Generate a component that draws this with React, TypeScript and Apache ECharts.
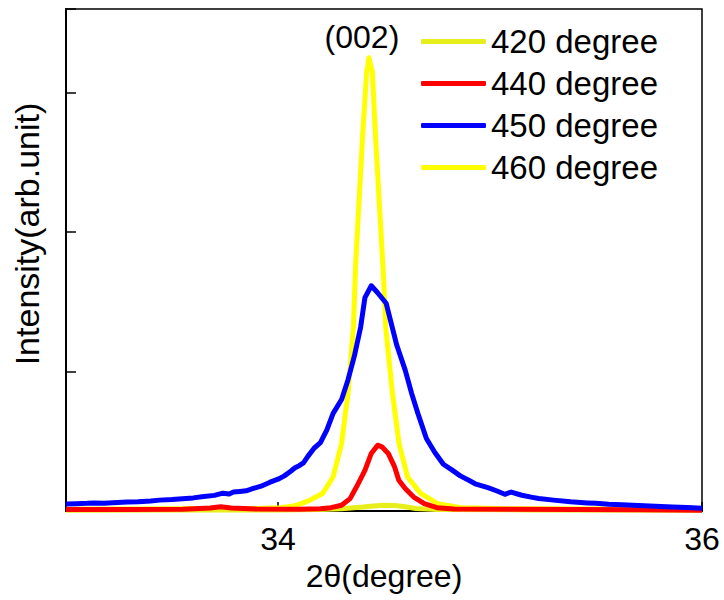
import React, { useEffect, useRef } from "react";
import * as echarts from "echarts";

const FONT = "'Liberation Sans', Arial, sans-serif";

const seriesNames = ["420 degree", "440 degree", "450 degree", "460 degree"];
const xTicks = [34, 36];

const blue450: [number, number][] = [
  [33.0, 0.05], [33.05, 0.052], [33.1, 0.055], [33.13, 0.058], [33.18, 0.056], [33.22, 0.06],
  [33.29, 0.064], [33.34, 0.066], [33.4, 0.072], [33.44, 0.078], [33.5, 0.082], [33.55, 0.088],
  [33.6, 0.094], [33.65, 0.104], [33.7, 0.112], [33.74, 0.128], [33.77, 0.122], [33.79, 0.136],
  [33.82, 0.14], [33.85, 0.145], [33.88, 0.16], [33.92, 0.178], [33.96, 0.205], [34.0, 0.228],
  [34.03, 0.252], [34.06, 0.285], [34.08, 0.31], [34.1, 0.325], [34.12, 0.345], [34.14, 0.39],
  [34.17, 0.45], [34.2, 0.49], [34.23, 0.58], [34.26, 0.7], [34.3, 0.8], [34.33, 0.94],
  [34.36, 1.11], [34.39, 1.32], [34.41, 1.53], [34.44, 1.615], [34.47, 1.565], [34.51, 1.49],
  [34.53, 1.37], [34.56, 1.19], [34.6, 1.01], [34.63, 0.845], [34.66, 0.7], [34.7, 0.52],
  [34.74, 0.42], [34.78, 0.335], [34.82, 0.295], [34.86, 0.252], [34.9, 0.22], [34.93, 0.195],
  [34.99, 0.168], [35.03, 0.145], [35.07, 0.12], [35.1, 0.136], [35.15, 0.113], [35.2, 0.098],
  [35.23, 0.09], [35.3, 0.078], [35.38, 0.066], [35.46, 0.058], [35.5, 0.055], [35.56, 0.048],
  [35.62, 0.044], [35.7, 0.039], [35.78, 0.034], [35.86, 0.029], [35.93, 0.025], [36.0, 0.02],
];

const yellow460: [number, number][] = [
  [33.0, 0.012], [33.3, 0.014], [33.6, 0.016], [33.9, 0.018], [34.01, 0.023], [34.08, 0.038],
  [34.11, 0.053], [34.15, 0.077], [34.21, 0.125], [34.26, 0.244], [34.3, 0.484], [34.33, 0.843],
  [34.356, 1.32], [34.366, 1.76], [34.398, 2.66], [34.418, 3.14], [34.429, 3.25], [34.445, 3.15],
  [34.461, 2.66], [34.497, 1.705], [34.508, 1.32], [34.54, 0.843], [34.571, 0.484], [34.611, 0.244],
  [34.674, 0.125], [34.753, 0.053], [34.863, 0.023], [35.1, 0.016], [35.5, 0.014], [36.0, 0.012],
];

const red440: [number, number][] = [
  [33.0, 0.01], [33.3, 0.01], [33.55, 0.013], [33.68, 0.022], [33.73, 0.03], [33.78, 0.022],
  [33.9, 0.014], [34.1, 0.013], [34.2, 0.016], [34.25, 0.024], [34.3, 0.041], [34.34, 0.089],
  [34.37, 0.172], [34.41, 0.292], [34.44, 0.413], [34.47, 0.472], [34.49, 0.46], [34.52, 0.413],
  [34.55, 0.316], [34.57, 0.22], [34.6, 0.161], [34.64, 0.1], [34.69, 0.053], [34.75, 0.024],
  [34.83, 0.014], [35.1, 0.013], [35.4, 0.011], [35.7, 0.009], [36.0, 0.006],
];

const yellow420: [number, number][] = [
  [33.0, 0.006], [33.5, 0.007], [34.0, 0.008], [34.2, 0.01], [34.3, 0.016], [34.4, 0.028],
  [34.45, 0.036], [34.5, 0.042], [34.55, 0.04], [34.6, 0.03], [34.65, 0.018], [34.75, 0.01],
  [35.2, 0.008], [36.0, 0.006],
];

const peakLabel = "(002)";

export default function App() {
  const ref = useRef<HTMLDivElement>(null);
  useEffect(() => {
    document.body.style.margin = "0";
    if (!ref.current) return;
    const chart = echarts.init(ref.current, undefined, { renderer: "svg" });
    const peak = yellow460.reduce((a, b) => (b[1] > a[1] ? b : a));
    const line = (name: string, data: [number, number][], color: string, extra: any = {}) => ({
      type: "line",
      name,
      data,
      symbol: "none",
      showSymbol: false,
      lineStyle: { color, width: 5, join: "round" },
      itemStyle: { color },
      ...extra,
    });
    chart.setOption({
      animation: false,
      textStyle: { fontFamily: FONT },
      grid: {
        left: 66,
        right: 22,
        top: 9,
        bottom: 89,
        containLabel: false,
        outerBoundsMode: "none",
        show: true,
        borderColor: "#000",
        borderWidth: 1.5,
      },
      legend: {
        data: seriesNames,
        orient: "vertical",
        left: 421,
        top: 25,
        padding: 0,
        itemWidth: 65,
        itemHeight: 5,
        itemGap: 9,
        icon: "roundRect",
        textStyle: { fontSize: 33, lineHeight: 30, color: "#000", fontFamily: FONT },
      },
      xAxis: {
        type: "value",
        min: 33,
        max: 36,
        name: "2θ(degree)",
        nameLocation: "middle",
        nameGap: 48,
        nameTextStyle: { fontSize: 32, color: "#000", fontFamily: FONT },
        axisLine: { lineStyle: { color: "#000", width: 2 } },
        axisTick: { inside: true, length: 9, customValues: xTicks, lineStyle: { color: "#000", width: 1.5 } },
        axisLabel: { customValues: xTicks, fontSize: 32, color: "#000", margin: 12, fontFamily: FONT },
        splitLine: { show: false },
      },
      yAxis: {
        type: "value",
        min: 0,
        max: 3.6,
        interval: 1,
        axisLine: { show: true, lineStyle: { color: "#000", width: 2 } },
        axisTick: { show: true, inside: true, length: 10, lineStyle: { color: "#000", width: 1.5 } },
        axisLabel: { show: false },
        splitLine: { show: false },
      },
      graphic: [
        {
          type: "text",
          x: 27,
          y: 234,
          rotation: Math.PI / 2,
          style: {
            text: "Intensity(arb.unit)",
            fontSize: 34,
            fontFamily: FONT,
            fill: "#000",
            textAlign: "center",
            textVerticalAlign: "middle",
          },
        },
      ],
      series: [
        line(seriesNames[3], yellow460, "#ffff00", {
          markPoint: {
            symbol: "circle",
            symbolSize: 0,
            data: [{ coord: peak }],
            label: {
              show: true,
              position: "inside",
              formatter: peakLabel,
              offset: [-7, -21],
              fontSize: 32,
              color: "#000",
              fontFamily: FONT,
            },
          },
        }),
        line(seriesNames[0], yellow420, "#e6ee1c"),
        line(seriesNames[1], red440, "#ff0000"),
        line(seriesNames[2], blue450, "#0000ff"),
      ],
    });
    return () => chart.dispose();
  }, []);
  return <div ref={ref} style={{ width: 724, height: 600 }} />;
}
